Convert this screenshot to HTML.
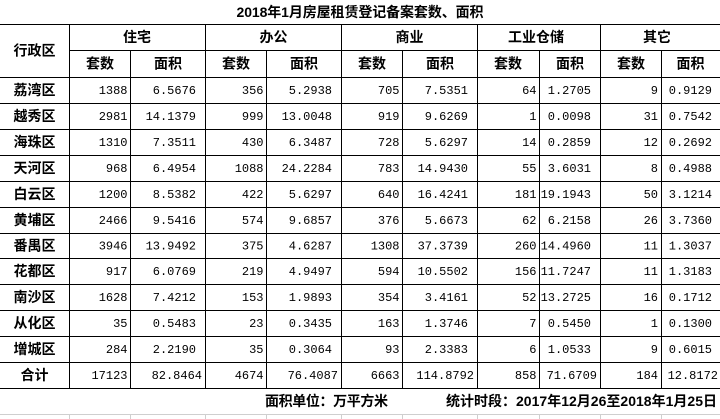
<!DOCTYPE html>
<html>
<head>
<meta charset="utf-8">
<style>
html,body{margin:0;padding:0;background:#fff;}
svg{display:block;}
.n{font-family:"Liberation Mono",monospace;font-size:12px;fill:#000;text-anchor:end;}
.h{font-family:"Liberation Sans","Noto Sans CJK SC",sans-serif;font-size:14px;font-weight:700;fill:#000;text-anchor:middle;}
.l{stroke:#000;stroke-width:1;shape-rendering:crispEdges;}
.g{stroke:#cfcfcf;stroke-width:1;shape-rendering:crispEdges;}
</style>
</head>
<body>
<svg width="720" height="419" viewBox="0 0 720 419" xmlns="http://www.w3.org/2000/svg">
<rect width="720" height="419" fill="#fff"/>
<!-- title -->
<text class="h" x="360" y="17" textLength="247" lengthAdjust="spacing">2018年1月房屋租赁登记备案套数、面积</text>

<!-- horizontal lines -->
<line class="l" x1="0" y1="24.5" x2="720" y2="24.5"/>
<line class="l" x1="69" y1="50.5" x2="720" y2="50.5"/>
<line class="l" x1="0" y1="77.5" x2="720" y2="77.5"/>
<line class="l" x1="0" y1="103.5" x2="720" y2="103.5"/>
<line class="l" x1="0" y1="129.5" x2="720" y2="129.5"/>
<line class="l" x1="0" y1="155.5" x2="720" y2="155.5"/>
<line class="l" x1="0" y1="181.5" x2="720" y2="181.5"/>
<line class="l" x1="0" y1="207.5" x2="720" y2="207.5"/>
<line class="l" x1="0" y1="233.5" x2="720" y2="233.5"/>
<line class="l" x1="0" y1="258.5" x2="720" y2="258.5"/>
<line class="l" x1="0" y1="284.5" x2="720" y2="284.5"/>
<line class="l" x1="0" y1="310.5" x2="720" y2="310.5"/>
<line class="l" x1="0" y1="336.5" x2="720" y2="336.5"/>
<line class="l" x1="0" y1="362.5" x2="720" y2="362.5"/>
<line class="l" x1="0" y1="388.5" x2="720" y2="388.5"/>

<!-- vertical lines -->
<line class="l" x1="69.5" y1="24" x2="69.5" y2="389"/>
<line class="l" x1="205.5" y1="24" x2="205.5" y2="389"/>
<line class="l" x1="341.5" y1="24" x2="341.5" y2="389"/>
<line class="l" x1="477.5" y1="24" x2="477.5" y2="389"/>
<line class="l" x1="600.5" y1="24" x2="600.5" y2="389"/>
<line class="l" x1="130.5" y1="50" x2="130.5" y2="389"/>
<line class="l" x1="266.5" y1="50" x2="266.5" y2="389"/>
<line class="l" x1="402.5" y1="50" x2="402.5" y2="389"/>
<line class="l" x1="539.5" y1="50" x2="539.5" y2="389"/>
<line class="l" x1="661.5" y1="50" x2="661.5" y2="389"/>

<!-- faint grid below -->
<line class="g" x1="0" y1="414.5" x2="720" y2="414.5"/>
<line class="g" x1="69.5" y1="414" x2="69.5" y2="419"/>
<line class="g" x1="130.5" y1="414" x2="130.5" y2="419"/>
<line class="g" x1="205.5" y1="414" x2="205.5" y2="419"/>
<line class="g" x1="266.5" y1="414" x2="266.5" y2="419"/>
<line class="g" x1="341.5" y1="414" x2="341.5" y2="419"/>
<line class="g" x1="402.5" y1="414" x2="402.5" y2="419"/>
<line class="g" x1="477.5" y1="414" x2="477.5" y2="419"/>
<line class="g" x1="539.5" y1="414" x2="539.5" y2="419"/>
<line class="g" x1="600.5" y1="414" x2="600.5" y2="419"/>
<line class="g" x1="661.5" y1="414" x2="661.5" y2="419"/>

<!-- headers -->
<text class="h" x="34.5" y="55.5">行政区</text>
<text class="h" x="137" y="42">住宅</text>
<text class="h" x="273.5" y="42">办公</text>
<text class="h" x="409.5" y="42">商业</text>
<text class="h" x="536" y="42">工业仓储</text>
<text class="h" x="657" y="42">其它</text>
<text class="h" x="100" y="68.5">套数</text>
<text class="h" x="168" y="68.5">面积</text>
<text class="h" x="236" y="68.5">套数</text>
<text class="h" x="304" y="68.5">面积</text>
<text class="h" x="372" y="68.5">套数</text>
<text class="h" x="440" y="68.5">面积</text>
<text class="h" x="508" y="68.5">套数</text>
<text class="h" x="570" y="68.5">面积</text>
<text class="h" x="631" y="68.5">套数</text>
<text class="h" x="690.5" y="68.5">面积</text>

<!-- district names -->
<text class="h" x="34.5" y="95">荔湾区</text>
<text class="h" x="34.5" y="121">越秀区</text>
<text class="h" x="34.5" y="147">海珠区</text>
<text class="h" x="34.5" y="173">天河区</text>
<text class="h" x="34.5" y="199">白云区</text>
<text class="h" x="34.5" y="225">黄埔区</text>
<text class="h" x="34.5" y="250.5">番禺区</text>
<text class="h" x="34.5" y="276">花都区</text>
<text class="h" x="34.5" y="302">南沙区</text>
<text class="h" x="34.5" y="328">从化区</text>
<text class="h" x="34.5" y="354">增城区</text>
<text class="h" x="34.5" y="380">合计</text>

<!-- row 1 荔湾区 -->
<g transform="translate(0,94)">
<text class="n" x="127.5" y="0">1388</text><text class="n" x="196" y="0">6.5676</text>
<text class="n" x="263.5" y="0">356</text><text class="n" x="332" y="0">5.2938</text>
<text class="n" x="399.5" y="0">705</text><text class="n" x="468" y="0">7.5351</text>
<text class="n" x="536.5" y="0">64</text><text class="n" x="591" y="0">1.2705</text>
<text class="n" x="658" y="0">9</text><text class="n" x="712" y="0">0.9129</text>
</g>
<g transform="translate(0,120)">
<text class="n" x="127.5" y="0">2981</text><text class="n" x="196" y="0">14.1379</text>
<text class="n" x="263.5" y="0">999</text><text class="n" x="332" y="0">13.0048</text>
<text class="n" x="399.5" y="0">919</text><text class="n" x="468" y="0">9.6269</text>
<text class="n" x="536.5" y="0">1</text><text class="n" x="591" y="0">0.0098</text>
<text class="n" x="658" y="0">31</text><text class="n" x="712" y="0">0.7542</text>
</g>
<g transform="translate(0,146)">
<text class="n" x="127.5" y="0">1310</text><text class="n" x="196" y="0">7.3511</text>
<text class="n" x="263.5" y="0">430</text><text class="n" x="332" y="0">6.3487</text>
<text class="n" x="399.5" y="0">728</text><text class="n" x="468" y="0">5.6297</text>
<text class="n" x="536.5" y="0">14</text><text class="n" x="591" y="0">0.2859</text>
<text class="n" x="658" y="0">12</text><text class="n" x="712" y="0">0.2692</text>
</g>
<g transform="translate(0,172)">
<text class="n" x="127.5" y="0">968</text><text class="n" x="196" y="0">6.4954</text>
<text class="n" x="263.5" y="0">1088</text><text class="n" x="332" y="0">24.2284</text>
<text class="n" x="399.5" y="0">783</text><text class="n" x="468" y="0">14.9430</text>
<text class="n" x="536.5" y="0">55</text><text class="n" x="591" y="0">3.6031</text>
<text class="n" x="658" y="0">8</text><text class="n" x="712" y="0">0.4988</text>
</g>
<g transform="translate(0,198)">
<text class="n" x="127.5" y="0">1200</text><text class="n" x="196" y="0">8.5382</text>
<text class="n" x="263.5" y="0">422</text><text class="n" x="332" y="0">5.6297</text>
<text class="n" x="399.5" y="0">640</text><text class="n" x="468" y="0">16.4241</text>
<text class="n" x="536.5" y="0">181</text><text class="n" x="591" y="0">19.1943</text>
<text class="n" x="658" y="0">50</text><text class="n" x="712" y="0">3.1214</text>
</g>
<g transform="translate(0,224)">
<text class="n" x="127.5" y="0">2466</text><text class="n" x="196" y="0">9.5416</text>
<text class="n" x="263.5" y="0">574</text><text class="n" x="332" y="0">9.6857</text>
<text class="n" x="399.5" y="0">376</text><text class="n" x="468" y="0">5.6673</text>
<text class="n" x="536.5" y="0">62</text><text class="n" x="591" y="0">6.2158</text>
<text class="n" x="658" y="0">26</text><text class="n" x="712" y="0">3.7360</text>
</g>
<g transform="translate(0,249.5)">
<text class="n" x="127.5" y="0">3946</text><text class="n" x="196" y="0">13.9492</text>
<text class="n" x="263.5" y="0">375</text><text class="n" x="332" y="0">4.6287</text>
<text class="n" x="399.5" y="0">1308</text><text class="n" x="468" y="0">37.3739</text>
<text class="n" x="536.5" y="0">260</text><text class="n" x="591" y="0">14.4960</text>
<text class="n" x="658" y="0">11</text><text class="n" x="712" y="0">1.3037</text>
</g>
<g transform="translate(0,275)">
<text class="n" x="127.5" y="0">917</text><text class="n" x="196" y="0">6.0769</text>
<text class="n" x="263.5" y="0">219</text><text class="n" x="332" y="0">4.9497</text>
<text class="n" x="399.5" y="0">594</text><text class="n" x="468" y="0">10.5502</text>
<text class="n" x="536.5" y="0">156</text><text class="n" x="591" y="0">11.7247</text>
<text class="n" x="658" y="0">11</text><text class="n" x="712" y="0">1.3183</text>
</g>
<g transform="translate(0,301)">
<text class="n" x="127.5" y="0">1628</text><text class="n" x="196" y="0">7.4212</text>
<text class="n" x="263.5" y="0">153</text><text class="n" x="332" y="0">1.9893</text>
<text class="n" x="399.5" y="0">354</text><text class="n" x="468" y="0">3.4161</text>
<text class="n" x="536.5" y="0">52</text><text class="n" x="591" y="0">13.2725</text>
<text class="n" x="658" y="0">16</text><text class="n" x="712" y="0">0.1712</text>
</g>
<g transform="translate(0,327)">
<text class="n" x="127.5" y="0">35</text><text class="n" x="196" y="0">0.5483</text>
<text class="n" x="263.5" y="0">23</text><text class="n" x="332" y="0">0.3435</text>
<text class="n" x="399.5" y="0">163</text><text class="n" x="468" y="0">1.3746</text>
<text class="n" x="536.5" y="0">7</text><text class="n" x="591" y="0">0.5450</text>
<text class="n" x="658" y="0">1</text><text class="n" x="712" y="0">0.1300</text>
</g>
<g transform="translate(0,353)">
<text class="n" x="127.5" y="0">284</text><text class="n" x="196" y="0">2.2190</text>
<text class="n" x="263.5" y="0">35</text><text class="n" x="332" y="0">0.3064</text>
<text class="n" x="399.5" y="0">93</text><text class="n" x="468" y="0">2.3383</text>
<text class="n" x="536.5" y="0">6</text><text class="n" x="591" y="0">1.0533</text>
<text class="n" x="658" y="0">9</text><text class="n" x="712" y="0">0.6015</text>
</g>
<g transform="translate(0,379)">
<text class="n" x="127.5" y="0">17123</text><text class="n" x="202" y="0">82.8464</text>
<text class="n" x="263.5" y="0">4674</text><text class="n" x="338" y="0">76.4087</text>
<text class="n" x="399.5" y="0">6663</text><text class="n" x="474" y="0">114.8792</text>
<text class="n" x="536.5" y="0">858</text><text class="n" x="597" y="0">71.6709</text>
<text class="n" x="658" y="0">184</text><text class="n" x="718" y="0">12.8172</text>
</g>

<!-- footer -->
<text class="h" x="326.5" y="406" textLength="123" lengthAdjust="spacing">面积单位：万平方米</text>
<text class="h" x="581.5" y="406" textLength="271" lengthAdjust="spacing">统计时段：2017年12月26至2018年1月25日</text>
</svg>
</body>
</html>
